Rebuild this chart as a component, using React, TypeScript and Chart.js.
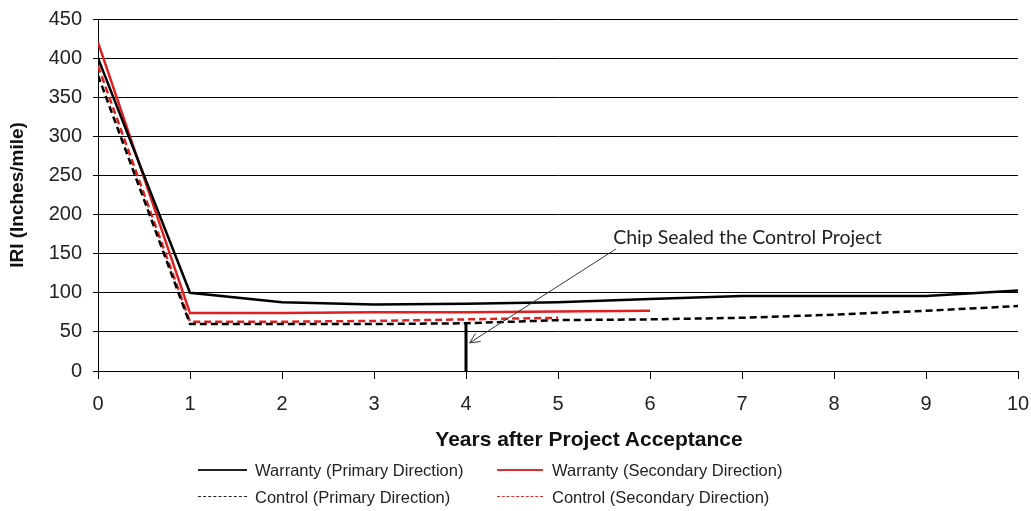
import React, { useEffect, useRef } from 'react';
import { Chart, registerables } from 'chart.js';

Chart.register(...registerables);

// ---- data ----
const years = [0, 1, 2, 3, 4, 5, 6, 7, 8, 9, 10];
const warrantyPrimary = [400, 100, 88, 85, 86, 88, 92, 96, 96, 96, 103];
const warrantySecondary = [420, 74, 74, 75, 75, 76, 77];
const controlPrimary = [378, 60, 60, 60, 61, 65, 66, 68, 72, 77, 83];
const controlSecondary = [390, 63, 63, 64, 66, 68];
const chipSealX = [4, 4];
const chipSealY = [61, 0];
const yTicks = [0, 50, 100, 150, 200, 250, 300, 350, 400, 450];
const xTicks = [0, 1, 2, 3, 4, 5, 6, 7, 8, 9, 10];

const xTitle = 'Years after Project Acceptance';
const yTitle = 'IRI (Inches/mile)';
const annotationText = 'Chip Sealed the Control Project';
const annotationLabelAt = { x: 5.6, y: 170 };
const annotationArrowFrom = { x: 5.63, y: 156 };
const annotationArrowTo = { x: 4.04, y: 36 };

const legendItems = [
  { label: 'Warranty (Primary Direction)', color: '#000', dashed: false },
  { label: 'Warranty (Secondary Direction)', color: '#e02020', dashed: false },
  { label: 'Control (Primary Direction)', color: '#000', dashed: true },
  { label: 'Control (Secondary Direction)', color: '#e02020', dashed: true },
];

const FONT = "'Liberation Sans', Arial, sans-serif";

const toPts = (xs: number[], ys: number[]) => ys.map((y, i) => ({ x: xs[i], y }));

const annotationPlugin = {
  id: 'chipAnnotation',
  afterDatasetsDraw(chart: any) {
    const { ctx, scales } = chart;
    const xs = scales.x;
    const ys = scales.y;
    const fx = xs.getPixelForValue(annotationArrowFrom.x);
    const fy = ys.getPixelForValue(annotationArrowFrom.y);
    const tx = xs.getPixelForValue(annotationArrowTo.x);
    const ty = ys.getPixelForValue(annotationArrowTo.y);
    ctx.save();
    ctx.strokeStyle = '#333';
    ctx.lineWidth = 1;
    ctx.beginPath();
    ctx.moveTo(fx, fy);
    ctx.lineTo(tx, ty);
    ctx.stroke();
    const ang = Math.atan2(ty - fy, tx - fx);
    const len = 11;
    ctx.beginPath();
    ctx.moveTo(tx + Math.cos(ang + Math.PI - 0.45) * len, ty + Math.sin(ang + Math.PI - 0.45) * len);
    ctx.lineTo(tx, ty);
    ctx.lineTo(tx + Math.cos(ang + Math.PI + 0.45) * len, ty + Math.sin(ang + Math.PI + 0.45) * len);
    ctx.stroke();
    ctx.fillStyle = '#222';
    ctx.font = "19.5px Lato, 'Open Sans', sans-serif";
    ctx.textBaseline = 'middle';
    ctx.textAlign = 'left';
    ctx.fillText(annotationText, xs.getPixelForValue(annotationLabelAt.x), ys.getPixelForValue(annotationLabelAt.y));
    ctx.restore();
  },
};

export default function App() {
  const ref = useRef<HTMLCanvasElement>(null);

  useEffect(() => {
    document.body.style.margin = '0';
    const canvas = ref.current!;
    const chart = new Chart(canvas, {
      type: 'line',
      data: {
        datasets: [
          {
            label: 'Chip seal',
            data: toPts(chipSealX, chipSealY),
            borderColor: '#000',
            borderWidth: 3,
            pointRadius: 0,
          },
          {
            label: legendItems[2].label,
            data: toPts(years, controlPrimary),
            borderColor: '#000',
            borderWidth: 2.5,
            borderDash: [7, 4],
            pointRadius: 0,
          },
          {
            label: legendItems[3].label,
            data: toPts(years, controlSecondary),
            borderColor: '#e02020',
            borderWidth: 2.5,
            borderDash: [7, 4],
            pointRadius: 0,
          },
          {
            label: legendItems[0].label,
            data: toPts(years, warrantyPrimary),
            borderColor: '#000',
            borderWidth: 2.5,
            pointRadius: 0,
          },
          {
            label: legendItems[1].label,
            data: toPts(years, warrantySecondary),
            borderColor: '#e02020',
            borderWidth: 2.5,
            pointRadius: 0,
          },
        ],
      },
      options: {
        responsive: false,
        animation: false,
        devicePixelRatio: 1,
        layout: { padding: { left: 0, top: 19, right: 0, bottom: 0 } },
        plugins: {
          legend: { display: false },
          tooltip: { enabled: false },
        },
        scales: {
          x: {
            type: 'linear',
            min: 0,
            max: 10,
            afterBuildTicks: (scale: any) => {
              scale.ticks = xTicks.map((v) => ({ value: v }));
            },
            afterFit: (scale: any) => {
              scale.height = 140;
              scale.paddingRight = 13;
              scale.paddingLeft = 0;
            },
            grid: {
              drawOnChartArea: false,
              drawTicks: true,
              tickLength: 8,
              color: '#000',
            },
            border: { display: true, color: '#000', width: 1 },
            ticks: {
              padding: 13,
              color: '#222',
              font: { family: FONT, size: 20 },
              maxRotation: 0,
            },
            title: { display: false },
          },
          y: {
            type: 'linear',
            min: 0,
            max: 450,
            afterBuildTicks: (scale: any) => {
              scale.ticks = yTicks.map((v) => ({ value: v }));
            },
            afterFit: (scale: any) => {
              scale.width = 98;
              scale.paddingTop = 0;
              scale.paddingBottom = 0;
            },
            grid: {
              color: '#000',
              lineWidth: 1,
              drawTicks: true,
              tickLength: 5,
            },
            border: { display: true, color: '#000', width: 1 },
            ticks: {
              padding: 11,
              color: '#222',
              font: { family: FONT, size: 20 },
            },
            title: {
              display: true,
              text: yTitle,
              color: '#111',
              font: { family: FONT, size: 19, weight: 'bold' },
              padding: { top: 6, bottom: 0 },
            },
          },
        },
      },
      plugins: [annotationPlugin],
    } as any);
    return () => chart.destroy();
  }, []);

  const rows = [470, 497];
  const cols = [
    { lineL: 198, lineR: 247, textL: 255 },
    { lineL: 497, lineR: 543, textL: 552 },
  ];

  return (
    <div style={{ position: 'relative', width: 1031, height: 511, background: '#fff', overflow: 'hidden' }}>
      <canvas ref={ref} width={1031} height={511} style={{ position: 'absolute', left: 0, top: 0, width: 1031, height: 511 }} />
      <div
        style={{
          position: 'absolute',
          left: 389,
          width: 400,
          top: 426,
          height: 26,
          lineHeight: '26px',
          textAlign: 'center',
          fontFamily: FONT,
          fontSize: 21,
          fontWeight: 'bold',
          color: '#111',
          whiteSpace: 'nowrap',
        }}
      >
        {xTitle}
      </div>
      {legendItems.map((item, i) => {
        const row = rows[Math.floor(i / 2)];
        const col = cols[i % 2];
        const c = item.color === '#000' ? '#222' : '#d83030';
        return (
          <React.Fragment key={item.label}>
            {item.dashed ? (
              <div
                style={{
                  position: 'absolute',
                  left: col.lineL,
                  top: row - 1,
                  width: col.lineR - col.lineL,
                  height: 0,
                  borderTop: `1px dashed ${c}`,
                }}
              />
            ) : (
              <div
                style={{
                  position: 'absolute',
                  left: col.lineL,
                  top: row - 1,
                  width: col.lineR - col.lineL,
                  height: 2,
                  background: c,
                }}
              />
            )}
            <div
              style={{
                position: 'absolute',
                left: col.textL,
                top: row - 10,
                height: 20,
                lineHeight: '20px',
                fontFamily: FONT,
                fontSize: 16.5,
                color: '#222',
                whiteSpace: 'nowrap',
              }}
            >
              {item.label}
            </div>
          </React.Fragment>
        );
      })}
    </div>
  );
}
